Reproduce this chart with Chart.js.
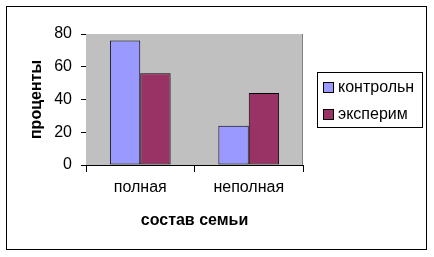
<!DOCTYPE html>
<html lang="ru">
<head>
<meta charset="UTF-8" />
<title>состав семьи</title>
<script src="https://cdn.jsdelivr.net/npm/chart.js"></script>
<style>
  body { margin: 0; background: #fff; }
  #wrap { width: 434px; height: 257px; }
</style>
</head>
<body>
<div id="wrap"><canvas id="chart" width="434" height="257"></canvas></div>
<script>
  // данные с картинки
  const categories = ['полная', 'неполная'];
  const seriesNames = ['контрольн', 'эксперим'];
  const control = [76, 24];
  const experiment = [56, 44];
  const yTicks = [0, 20, 40, 60, 80];

  const FONT = "'Liberation Sans', Arial, sans-serif";

  // серый фон области построения, рамка вокруг всего
  const frame = {
    id: 'frame',
    beforeDatasetsDraw(chart) {
      const { ctx, chartArea: a } = chart;
      ctx.save();
      ctx.fillStyle = '#c0c0c0';
      ctx.fillRect(a.left, a.top, a.right - a.left, a.bottom - a.top);
      ctx.strokeStyle = '#808080';
      ctx.lineWidth = 1;
      ctx.beginPath();
      ctx.moveTo(Math.round(a.right) - 0.5, a.top);
      ctx.lineTo(Math.round(a.right) - 0.5, a.bottom);
      ctx.stroke();
      ctx.restore();
    },
    afterDraw(chart) {
      const ctx = chart.ctx;
      ctx.save();
      ctx.strokeStyle = '#000';
      ctx.lineWidth = 1;
      ctx.strokeRect(6.5, 6.5, 420, 243);

      // легенда
      ctx.fillStyle = '#fff';
      ctx.fillRect(317.5, 72.5, 105, 55);
      ctx.strokeRect(317.5, 72.5, 105, 55);
      ctx.font = '16px ' + FONT;
      ctx.textBaseline = 'middle';
      chart.data.datasets.forEach((ds, i) => {
        const cy = 88 + i * 27;
        ctx.fillStyle = ds.backgroundColor;
        ctx.fillRect(323.5, cy - 5.5, 10, 10);
        ctx.strokeRect(323.5, cy - 5.5, 10, 10);
        ctx.fillStyle = '#000';
        ctx.fillText(ds.label, 338, cy);
      });
      ctx.restore();
    }
  };

  new Chart(document.getElementById('chart'), {
    type: 'bar',
    data: {
      labels: categories,
      datasets: [
        { label: seriesNames[0], data: control, backgroundColor: '#9999ff' },
        { label: seriesNames[1], data: experiment, backgroundColor: '#993366' }
      ]
    },
    options: {
      responsive: false,
      animation: false,
      layout: { padding: { left: 0, top: 34, right: 131, bottom: 0 } },
      datasets: {
        bar: {
          categoryPercentage: 0.56,
          barPercentage: 1,
          borderColor: '#000',
          borderWidth: 1,
          borderSkipped: false
        }
      },
      plugins: { legend: { display: false }, tooltip: { enabled: false } },
      scales: {
        x: {
          afterFit(scale) { scale.height = 92; },
          grid: { drawOnChartArea: false, drawTicks: true, tickLength: 7, color: '#000' },
          border: { color: '#000' },
          ticks: { color: '#000', font: { family: FONT, size: 16 }, padding: 6 },
          title: {
            display: true, text: 'состав семьи', color: '#000',
            font: { family: FONT, size: 16, weight: 'bold' },
            padding: { top: 0, bottom: 27 }
          }
        },
        y: {
          min: 0, max: 80,
          afterFit(scale) { scale.width = 86; },
          afterBuildTicks(scale) { scale.ticks = yTicks.map(v => ({ value: v })); },
          grid: {
            color: c => (c.tick && c.tick.value === 80 ? '#808080' : '#000'),
            tickColor: '#000',
            tickLength: 5
          },
          border: { color: '#000' },
          ticks: { color: '#000', font: { family: FONT, size: 16 }, padding: 9 },
          title: {
            display: true, text: 'проценты', color: '#000',
            font: { family: FONT, size: 16, weight: 'bold' },
            padding: { top: 27, bottom: 0 }
          }
        }
      }
    },
    plugins: [frame]
  });
</script>
</body>
</html>
